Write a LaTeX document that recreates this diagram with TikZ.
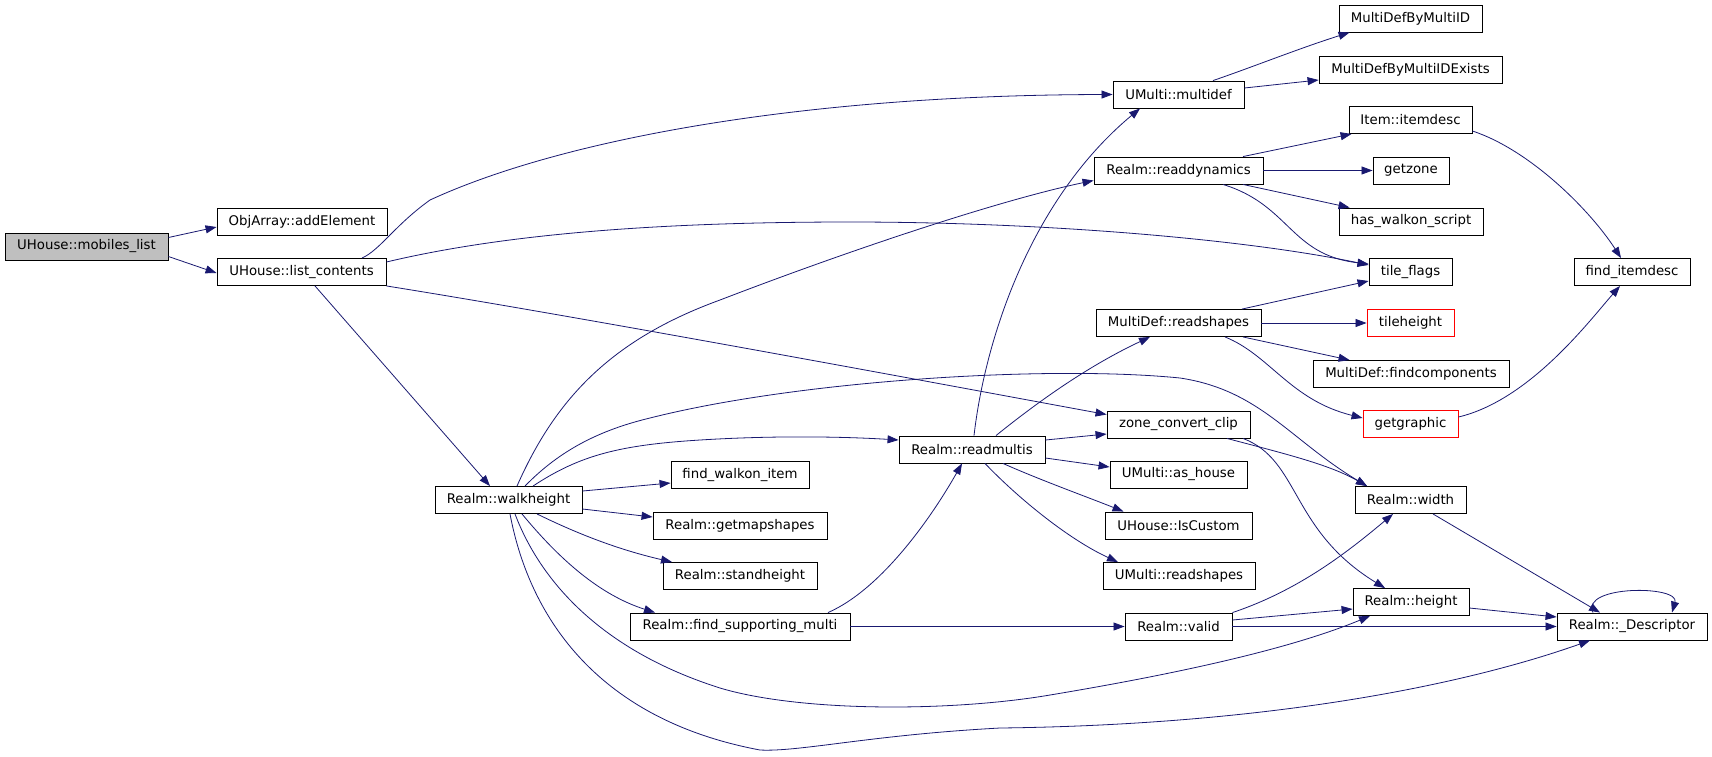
\documentclass[tikz,border=0pt]{standalone}
\usepackage{fontspec}
\setmainfont{DejaVu Sans}
\usetikzlibrary{arrows.meta}
\definecolor{edgeblue}{RGB}{25,25,112}
\definecolor{rootgrey}{RGB}{191,191,191}

\begin{document}
\begin{tikzpicture}[x=1pt, y=-1pt,
    fnbox/.style={draw=black, line width=0.9pt, fill=white,
        minimum height=27pt, inner xsep=3pt, inner ysep=0pt,
        font=\fontsize{13.3}{16}\selectfont},
    fnroot/.style={fnbox, fill=rootgrey},
    fnred/.style={fnbox, draw=red},
    calls/.style={draw=edgeblue, line width=0.8pt,
        -{Triangle[length=11pt,width=8pt]}}
]
\useasboundingbox (0,0) rectangle (1712,756);

% UHouse::mobiles_list
\node (ml) [fnroot,
    minimum width=163pt
] at (86.5,246.5) {UHouse::mobiles\_list};
\node (oa) [fnbox,
    minimum width=170pt
] at (302,222) {ObjArray::addElement};
\node (lc) [fnbox,
    minimum width=169pt
] at (301.5,272) {UHouse::list\_contents};

% Realm::walkheight and its column
\node (wh) [fnbox,
    minimum width=147pt
] at (508.5,500) {Realm::walkheight};
\node (fwi) [fnbox,
    minimum width=138pt
] at (740,475) {find\_walkon\_item};
\node (gms) [fnbox,
    minimum width=174pt
] at (740,526) {Realm::getmapshapes};
\node (sh) [fnbox,
    minimum width=154pt
] at (740,576) {Realm::standheight};
\node (fsm) [fnbox,
    minimum width=220pt
] at (740,626.5) {Realm::find\_supporting\_multi};
\node (rm) [fnbox,
    minimum width=146pt
] at (972,449.5) {Realm::readmultis};

% middle column
\node (md) [fnbox,
    minimum width=131pt
] at (1178.5,94.5) {UMulti::multidef};
\node (rdyn) [fnbox,
    minimum width=169pt
] at (1178.5,170.5) {Realm::readdynamics};
\node (mrs) [fnbox,
    minimum width=165pt
] at (1178.5,323) {MultiDef::readshapes};
\node (zcc) [fnbox,
    minimum width=143pt
] at (1178.5,424.5) {zone\_convert\_clip};
\node (ah) [fnbox,
    minimum width=137pt
] at (1178.5,474.5) {UMulti::as\_house};
\node (ic) [fnbox,
    minimum width=147pt
] at (1178.5,525.5) {UHouse::IsCustom};
\node (urs) [fnbox,
    minimum width=152pt
] at (1179,576) {UMulti::readshapes};
\node (rv) [fnbox,
    minimum width=107pt
] at (1178.5,626.5) {Realm::valid};

% right column
\node (mdid) [fnbox,
    minimum width=143pt
] at (1410.5,18.5) {MultiDefByMultiID};
\node (mdidex) [fnbox,
    minimum width=183pt
] at (1410.5,70) {MultiDefByMultiIDExists};
\node (itd) [fnbox,
    minimum width=123pt
] at (1410.5,120) {Item::itemdesc};
\node (gz) [fnbox,
    minimum width=76pt
] at (1411,170.5) {getzone};
\node (hws) [fnbox,
    minimum width=144pt
] at (1411,221.5) {has\_walkon\_script};
\node (tf) [fnbox,
    minimum width=83pt
] at (1410.5,272) {tile\_flags};
\node (th) [fnred,
    minimum width=87pt
] at (1410.5,323) {tileheight};
\node (fc) [fnbox,
    minimum width=196pt
] at (1411,374) {MultiDef::findcomponents};
\node (gg) [fnred,
    minimum width=95pt
] at (1410.5,424) {getgraphic};
\node (rw) [fnbox,
    minimum width=111pt
] at (1410.5,500) {Realm::width};
\node (rh) [fnbox,
    minimum width=116pt
] at (1411,602) {Realm::height};

% last column
\node (fid) [fnbox,
    minimum width=116pt
] at (1632,272) {find\_itemdesc};
\node (rd) [fnbox,
    minimum width=150pt
] at (1632,626.5) {Realm::\_Descriptor};

%-------------------------------------
% calls from the left
\draw [calls] ([yshift=9pt]ml.east) -- ([yshift=-5pt]oa.west);
\draw [calls] ([yshift=-10pt]ml.east) -- ([yshift=-1pt]lc.west);

\draw [calls] ([xshift=60.5pt]lc.north) .. controls (380,250) and (395,225) .. (430,200)
    .. controls (560,140) and (800,95) .. (md.west);
\draw [calls] ([yshift=10pt]lc.east) .. controls (500,235) and (650,222) .. (850,222)
    .. controls (1050,222) and (1250,240) .. ([yshift=7pt]tf.west);
\draw [calls] (lc.south east) .. controls (600,320) and (1000,395) .. ([yshift=10pt]zcc.west);
\draw [calls] ([xshift=13.5pt]lc.south) -- ([xshift=-18.5pt]wh.north);

%-------------------------------------
% Realm::walkheight
\draw [calls] ([xshift=8.5pt]wh.north) .. controls (555,400) and (610,340) .. (720,300)
    .. controls (850,250) and (1000,200) .. ([yshift=-10pt]rdyn.west);
\draw [calls] ([xshift=16.5pt]wh.north) .. controls (560,450) and (600,430) .. (650,418)
    .. controls (800,380) and (1050,365) .. (1180,378)
    .. controls (1260,390) and (1290,440) .. ([xshift=-43.5pt]rw.north);
\draw [calls] ([xshift=24.5pt]wh.north) .. controls (580,455) and (620,445) .. (700,440)
    .. controls (780,435) and (850,437) .. ([yshift=9.5pt]rm.west);
\draw [calls] ([yshift=9pt]wh.east) -- ([yshift=-8pt]fwi.west);
\draw [calls] ([yshift=-9pt]wh.east) -- ([yshift=9pt]gms.west);
\draw [calls] ([xshift=28.5pt]wh.south) .. controls (580,535) and (620,550) .. ([xshift=-68pt]sh.north);
\draw [calls] ([xshift=13.5pt]wh.south) .. controls (560,560) and (600,595) .. ([xshift=-85pt]fsm.north);
\draw [calls] ([xshift=6.5pt]wh.south) .. controls (540,580) and (600,650) .. (720,688)
    .. controls (800,712) and (950,712) .. (1050,695)
    .. controls (1200,670) and (1300,645) .. ([xshift=-41pt]rh.south);
\draw [calls] ([xshift=1.5pt]wh.south) .. controls (530,620) and (600,720) .. (760,750)
    .. controls (800,752) and (870,735) .. (1000,728)
    .. controls (1250,725) and (1450,690) .. ([xshift=-42pt]rd.south);

% Realm::find_supporting_multi
\draw [calls] ([xshift=88pt]fsm.north) .. controls (880,590) and (930,520) .. ([xshift=-10pt]rm.south);
\draw [calls] (fsm.east) -- (rv.west);

% Realm::readmultis
\draw [calls] ([xshift=2pt]rm.north) .. controls (985,340) and (1030,200) .. ([xshift=-38.5pt]md.south);
\draw [calls] ([xshift=24pt]rm.north) .. controls (1040,400) and (1090,365) .. ([xshift=-28.5pt]mrs.south);
\draw [calls] ([yshift=9.5pt]rm.east) -- ([yshift=-9.5pt]zcc.west);
\draw [calls] ([yshift=-8.5pt]rm.east) -- ([yshift=7.5pt]ah.west);
\draw [calls] ([xshift=31pt]rm.south) .. controls (1040,480) and (1090,498) .. ([xshift=-55pt]ic.north);
\draw [calls] ([xshift=13pt]rm.south) .. controls (1020,500) and (1070,540) .. ([xshift=-61pt]urs.north);

% UMulti::multidef
\draw [calls] ([xshift=34.5pt]md.north) .. controls (1250,68) and (1300,48) .. ([xshift=11pt]mdid.south west);
\draw [calls] ([yshift=6.5pt]md.east) -- ([yshift=-10pt]mdidex.west);

% Realm::readdynamics
\draw [calls] ([xshift=64.5pt]rdyn.north) -- ([xshift=3pt]itd.south west);
\draw [calls] (rdyn.east) -- (gz.west);
\draw [calls] ([xshift=64.5pt]rdyn.south) -- ([xshift=11pt]hws.north west);
\draw [calls] ([xshift=44.5pt]rdyn.south) .. controls (1290,205) and (1290,255) .. ([yshift=8pt]tf.west);

% MultiDef::readshapes
\draw [calls] ([xshift=63.5pt]mrs.north) -- ([yshift=-9pt]tf.west);
\draw [calls] (mrs.east) -- (th.west);
\draw [calls] ([xshift=64.5pt]mrs.south) -- ([xshift=37pt]fc.north west);
\draw [calls] ([xshift=46.5pt]mrs.south) .. controls (1270,355) and (1290,400) .. ([yshift=6pt]gg.west);

% find_itemdesc
\draw [calls] ([yshift=-11pt]itd.east) .. controls (1530,150) and (1590,210) .. ([xshift=-11pt]fid.north);
\draw [calls] ([yshift=7pt]gg.east) .. controls (1530,400) and (1590,320) .. ([xshift=-12pt]fid.south);

% zone_convert_clip
\draw [calls] ([xshift=48.5pt]zcc.south) .. controls (1290,455) and (1330,465) .. ([xshift=-43.5pt]rw.north);
\draw [calls] ([xshift=64.5pt]zcc.south) .. controls (1300,460) and (1290,530) .. ([xshift=-26pt]rh.north);

% Realm::valid
\draw [calls] (rv.north east) .. controls (1300,590) and (1350,550) .. ([xshift=-17.5pt]rw.south);
\draw [calls] ([yshift=6.5pt]rv.east) -- ([yshift=-7pt]rh.west);
\draw [calls] (rv.east) -- (rd.west);

% Realm::_Descriptor
\draw [calls] ([xshift=22.5pt]rw.south) -- ([xshift=-32pt]rd.north);
\draw [calls] ([yshift=-6pt]rh.east) -- ([yshift=9.5pt]rd.west);
\draw [calls] ([xshift=-39pt]rd.north) .. controls (1580,585) and (1680,585) .. ([xshift=40pt]rd.north);

\end{tikzpicture}
\end{document}
